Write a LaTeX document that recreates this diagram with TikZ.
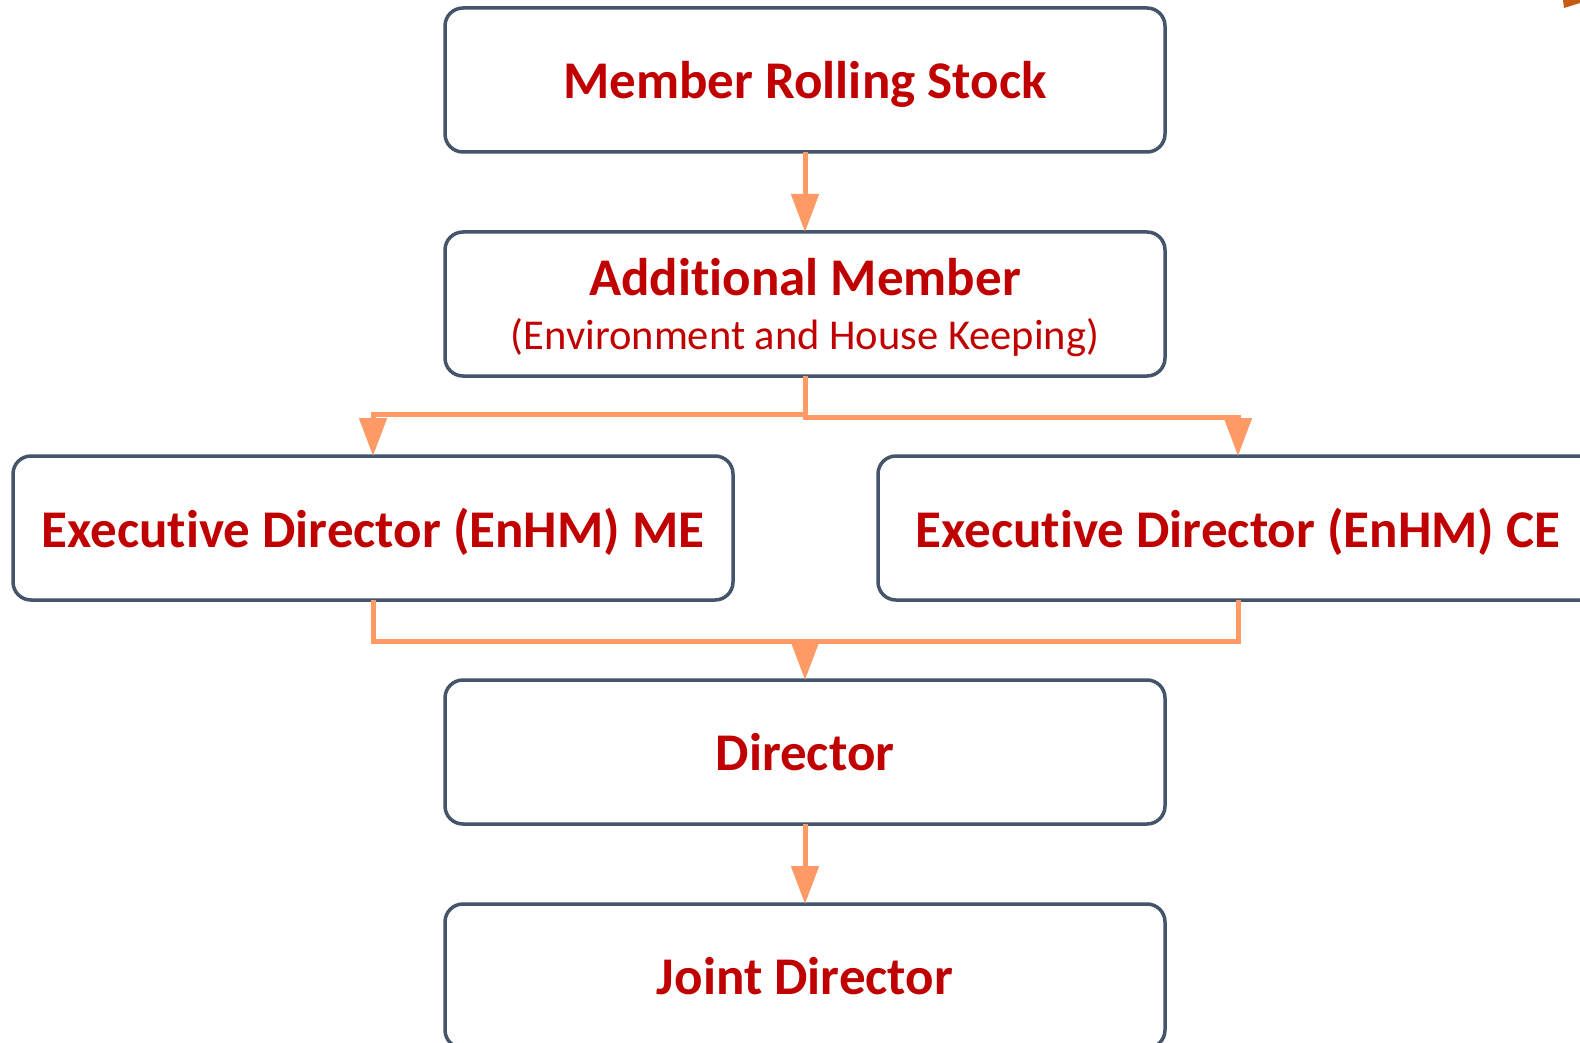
\documentclass[tikz,border=0pt]{standalone}
\usepackage{fontspec}
\setmainfont{Carlito}[Ligatures=NoCommon]
\usetikzlibrary{positioning,arrows.meta}
\definecolor{boxline}{HTML}{44546A}
\definecolor{linkline}{HTML}{FF9966}
\definecolor{posttext}{HTML}{C00000}
\definecolor{cornermark}{HTML}{C55A11}
\newcommand{\subfont}{\fontsize{42.5}{50}\selectfont\mdseries}
\begin{document}
\begin{tikzpicture}[
x=1pt,y=-1pt,
node distance=80pt,
post/.style={
	rectangle,minimum width=720pt,minimum height=144pt,rounded corners=18pt,
	draw=boxline,line width=3.5pt,outer sep=0pt,text=posttext,align=center,
	text depth=0pt,font=\fontsize{53}{62}\selectfont\bfseries},
link/.style={draw=linkline,line width=5pt},
arr/.style={link,-{Triangle[width=27pt,length=38pt]}}
]
\useasboundingbox (0,0) rectangle (1580,1043);
\fill[cornermark] (1563,0) -- (1580,0) -- (1580,3) -- (1564,8) -- cycle;

\node[post] (top) at (805,80) {Member Rolling Stock};
\node[post,below=of top] (add) {Additional Member\\[-8pt]
	{\subfont (Environment and House Keeping)}};
\node[post,below=of add,xshift=-432pt] (me) {Executive Director (EnHM) ME};
\node[post,below=of add,xshift=433pt] (ce) {Executive Director (EnHM) CE};
\node[post,below=304pt of add] (dir) {Director};
\node[post,below=of dir] (jd) {Joint Director};

% links between the posts
\draw[arr] (top) -- (add);
\draw[arr] (add.south) -- ++(0,38) -| (me.north);
\draw[arr] (add.south) -- ++(0,41) -| (ce.north);
\coordinate (join) at (add.south |- 0,641);
\draw[link] (me.south) |- (join) -| (ce.south);
\draw[arr] (join) -- (dir.north);
\draw[arr] (dir) -- (jd);
\end{tikzpicture}
\end{document}
